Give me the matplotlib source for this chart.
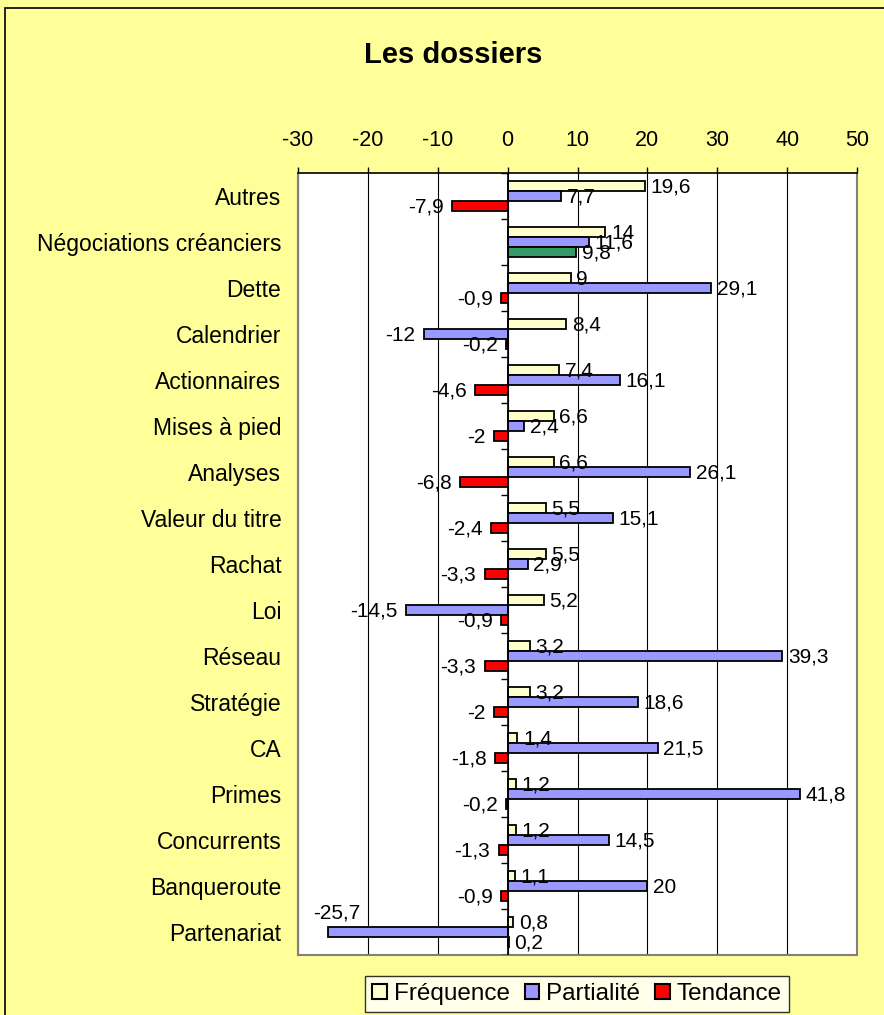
import matplotlib
matplotlib.use('Agg')
import matplotlib.pyplot as plt
from matplotlib.patches import Patch, Rectangle
import numpy as np

plt.rcParams['font.family'] = ['Liberation Sans', 'DejaVu Sans']
plt.rcParams['axes.unicode_minus'] = False

categories = ['Autres', 'Négociations créanciers', 'Dette', 'Calendrier',
              'Actionnaires', 'Mises à pied', 'Analyses', 'Valeur du titre',
              'Rachat', 'Loi', 'Réseau', 'Stratégie', 'CA', 'Primes',
              'Concurrents', 'Banqueroute', 'Partenariat']
frequence = [19.6, 14, 9, 8.4, 7.4, 6.6, 6.6, 5.5, 5.5, 5.2, 3.2, 3.2, 1.4, 1.2, 1.2, 1.1, 0.8]
partialite = [7.7, 11.6, 29.1, -12, 16.1, 2.4, 26.1, 15.1, 2.9, -14.5, 39.3, 18.6, 21.5, 41.8, 14.5, 20, -25.7]
tendance = [-7.9, 9.8, -0.9, -0.2, -4.6, -2, -6.8, -2.4, -3.3, -0.9, -3.3, -2, -1.8, -0.2, -1.3, -0.9, 0.2]
series_names = ['Fréquence', 'Partialité', 'Tendance']
xticks = [-30, -20, -10, 0, 10, 20, 30, 40, 50]

bg = '#FFFF99'
colors = ['#FFFFCC', '#9999FF', '#FF0000']
green = '#339966'

fig = plt.figure(figsize=(8.84, 10.15), dpi=100)
fig.patch.set_facecolor(bg)
# outer chart frame
fig.patches.append(Rectangle((5 / 884, -0.05), 1.1, 1 - 8 / 1015 + 0.05,
                             transform=fig.transFigure, fill=False,
                             edgecolor='black', lw=1.2))

ax = fig.add_axes([298 / 884, 1 - 955 / 1015, 559 / 884, 782 / 1015])
ax.set_facecolor('white')

y = np.arange(len(categories))
h = 0.217
for k, vals in enumerate([frequence, partialite, tendance]):
    cols = [colors[k]] * len(vals)
    if k == 2:
        cols[1] = green
    pos = y + (k - 1) * h
    ax.barh(pos, vals, height=h, color=cols, edgecolor='black', lw=1.3, zorder=3)
    for yy, v in zip(pos, vals):
        txt = ('%g' % v).replace('.', ',')
        if v >= 0:
            ax.annotate(txt, (v, yy), xytext=(4, -1), textcoords='offset points',
                        ha='left', va='center', fontsize=15, zorder=4)
        elif v < -24:
            # no room on the left: put the label above the bar end
            ax.annotate(txt, (v, yy), xytext=(6, 14), textcoords='offset points',
                        ha='center', va='center', fontsize=15, zorder=4)
        else:
            ax.annotate(txt, (v, yy), xytext=(-6, -1), textcoords='offset points',
                        ha='right', va='center', fontsize=15, zorder=4)

ax.set_xlim(-30, 50)
ax.set_ylim(len(categories) - 0.5, -0.5)
ax.set_xticks(xticks)
ax.xaxis.tick_top()
ax.tick_params(axis='x', direction='out', length=4, width=1, pad=12, labelsize=15.5)
ax.set_yticks(y)
ax.set_yticklabels(categories, fontsize=16.5)
ax.tick_params(axis='y', length=0, pad=12)
ax.grid(axis='x', color='black', lw=0.8, zorder=1)

for s in ['left', 'right', 'bottom']:
    ax.spines[s].set_color('#808080')
    ax.spines[s].set_linewidth(1.5)
ax.spines['top'].set_color('black')
ax.spines['top'].set_linewidth(1.2)

# zero axis with category tick marks
ax.axvline(0, color='black', lw=1.2, zorder=4)
ax.hlines(np.arange(len(categories) + 1) - 0.5, -0.9, 0, color='black', lw=1, zorder=4)

fig.text(453 / 884, 1 - 55 / 1015, 'Les dossiers', ha='center', va='center',
         fontsize=21, fontweight='bold')

handles = [Patch(facecolor=c, edgecolor='black', lw=1.5) for c in colors]
leg = fig.legend(handles, series_names, loc='center', ncol=3,
                 bbox_to_anchor=(577 / 884, 1 - 994 / 1015), fontsize=17.5,
                 frameon=True, fancybox=False, handlelength=0.6, handleheight=0.6,
                 handletextpad=0.3, columnspacing=0.6, borderpad=0.3,
                 borderaxespad=0)
leg.get_frame().set_edgecolor('black')
leg.get_frame().set_linewidth(1)
leg.get_frame().set_facecolor('white')

fig.savefig('out.png', dpi=100, facecolor=bg)
